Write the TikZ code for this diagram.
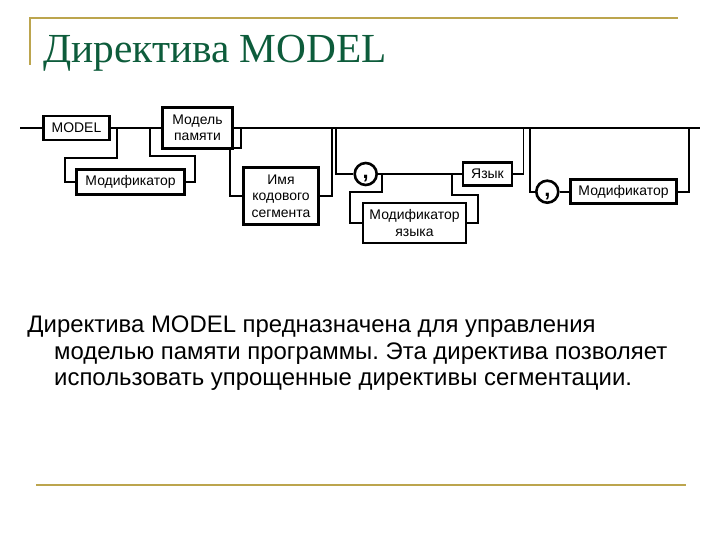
\documentclass[tikz,border=0pt]{standalone}
\usepackage{fontspec}
\setmainfont{Liberation Serif}
\newfontfamily\arial{Liberation Sans}
\usepackage{tikz}
\usetikzlibrary{positioning}
\definecolor{Gold}{HTML}{BCA54E}
\definecolor{TitleGreen}{HTML}{0D5C3B}
\frenchspacing

\begin{document}
\begin{tikzpicture}[x=1bp,y=-1bp,
  box/.style={draw,line width=2.6bp,inner sep=0pt,align=center,font=\arial\fontsize{14}{16.5}\selectfont},
  comma/.style={draw,circle,line width=2.6bp,inner sep=0pt,minimum size=22bp,font=\arial\bfseries\fontsize{22}{22}\selectfont},
  rail/.style={line width=1.8bp,line join=miter},
  goldline/.style={draw=Gold,line width=2.4bp}]
\useasboundingbox (0,0) rectangle (720,540);
% frame lines
\draw[goldline] (30,65) -- (30,18) -- (678,18);
\draw[goldline] (36,485) -- (686,485);
\node[anchor=base west,inner sep=0pt,text=TitleGreen,font=\fontsize{41.5}{41.5}\selectfont] (title) at (43,63) {Директива MODEL};
% syntax diagram
\coordinate (start) at (20,128);
\coordinate (finish) at (700,128);
\node[box,minimum width=66bp,minimum height=24bp] (model) at (76.5,128) {MODEL};
\node[box,minimum width=108bp,minimum height=25bp] (mod1) at (130.5,182) {Модификатор};
\node[box,minimum width=70bp,minimum height=41bp] (mem) at (197.5,128) {Модель\\памяти};
\node[box,minimum width=75bp,minimum height=57bp] (seg) at (281,196) {Имя\\кодового\\сегмента};
\node[comma] (c1) at (365.7,174) {\smash{\raisebox{-5bp}{,}}};
\node[box,minimum width=49bp,minimum height=23bp] (lang) at (487.5,174) {Язык};
\node[box,minimum width=103bp,minimum height=40bp] (langmod) at (414.5,223) {Модификатор\\языка};
\node[comma] (c2) at (547.3,191.7) {\smash{\raisebox{-5bp}{,}}};
\node[box,minimum width=106bp,minimum height=24bp] (mod2) at (623.5,191.7) {Модификатор};
\coordinate (a1) at (117,128);
\coordinate (a2) at (150,128);
\coordinate (b1) at (240.7,128);
\coordinate (b2) at (331.7,128);
\coordinate (d1) at (336,128);
\coordinate (d2) at (523.5,128);
\coordinate (e1) at (381.7,174);
\coordinate (e2) at (451.7,174);
\coordinate (f1) at (530,128);
\coordinate (f2) at (689,128);
\draw[rail] (start) -- (model) -- (mem) -- (finish);
\draw[rail] (a1) |- (65,158) |- (mod1.west);
\draw[rail] (mod1.east) -| (195,156) -| (a2);
\draw[rail] (b1) |- (230,148) |- (seg.west);
\draw[rail] (seg.east) -| (b2);
\draw[rail] (d1) |- (c1);
\draw[rail] (c1) -- (lang);
\draw[rail] (lang.east) -| (d2);
\draw[rail] (e1) |- (350,192) |- (langmod.west);
\draw[rail] (langmod.east) -| (478,195) -| (e2);
\draw[rail] (f1) |- (c2);
\draw[rail] (c2) -- (mod2);
\draw[rail] (mod2) -| (f2);
% text
\begin{scope}[every node/.style={anchor=base west,inner sep=0pt,font=\arial\fontsize{24}{26}\selectfont}]
\node (line1) at (27.3,332.7) {Директива MODEL предназначена для управления};
\node (line2) at (54,359.3) {моделью памяти программы. Эта директива позволяет};
\node (line3) at (54,385.5) {использовать упрощенные директивы сегментации.};
\end{scope}
\end{tikzpicture}
\end{document}
